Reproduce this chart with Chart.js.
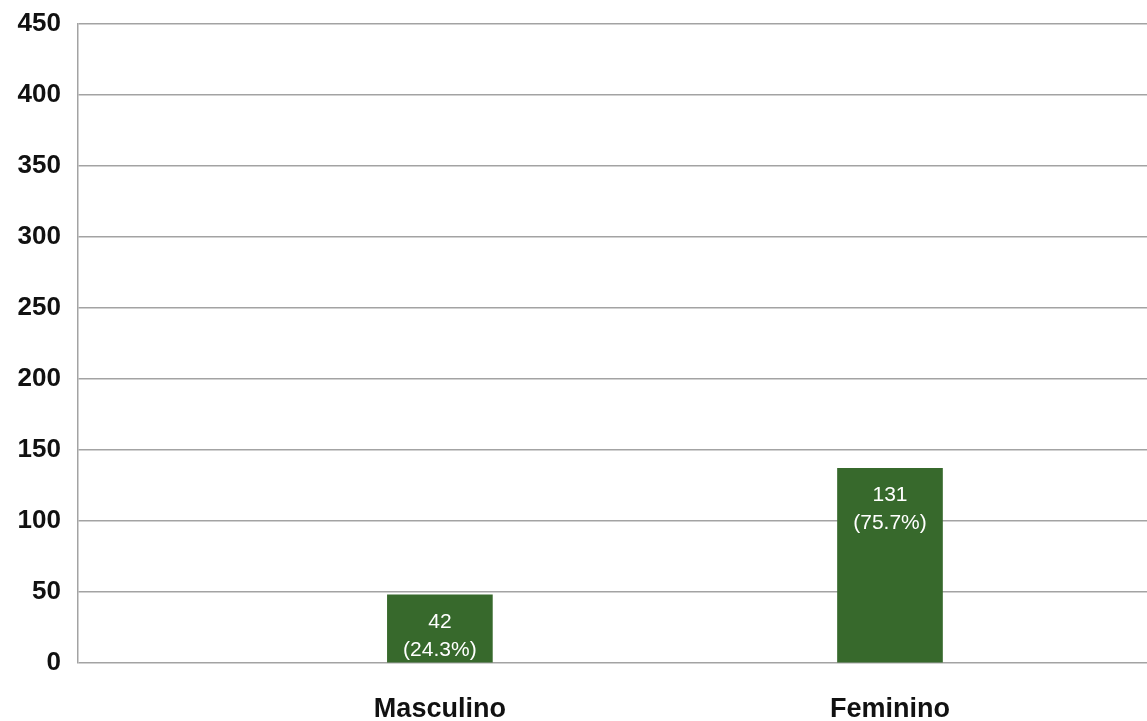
<!DOCTYPE html>
<html>
<head>
<meta charset="utf-8">
<script src="https://cdn.jsdelivr.net/npm/chart.js@4"></script>
<style>
  html, body { margin: 0; padding: 0; background: #fff; }
  #wrap { width: 1147px; height: 721px; }
</style>
</head>
<body>
<div id="wrap"><canvas id="chart_sexo"></canvas></div>
<script>
const categories = ['Masculino', 'Feminino'];
const barHeights = [48, 137];      // bar tops as drawn in the picture
const counts = [42, 131];
const percents = ['24.3%', '75.7%'];
const yTicks = [0, 50, 100, 150, 200, 250, 300, 350, 400, 450];

const labelPlugin = {
  id: 'barLabels',
  afterDatasetsDraw(chart) {
    const ctx = chart.ctx;
    const meta = chart.getDatasetMeta(0);
    ctx.save();
    ctx.fillStyle = '#ffffff';
    ctx.font = '21px "Liberation Sans", Arial, sans-serif';
    ctx.textAlign = 'center';
    ctx.textBaseline = 'middle';
    meta.data.forEach(function(bar, i) {
      ctx.fillText(String(counts[i]), bar.x, bar.y + 27);
      ctx.fillText('(' + percents[i] + ')', bar.x, bar.y + 55);
    });
    ctx.restore();
  }
};

const myChart = new Chart(document.getElementById('chart_sexo'), {
  type: 'bar',
  data: {
    datasets: [{
      data: categories.map((c, i) => ({x: i, y: barHeights[i]})),
      backgroundColor: '#37692c',
      barThickness: 105,
    }]
  },
  plugins: [labelPlugin],
  options: {
    responsive: true,
    maintainAspectRatio: false,
    animation: false,
    layout: { padding: 0 },
    plugins: {
      legend: { display: false },
      tooltip: { enabled: false },
    },
    scales: {
      x: {
        type: 'linear',
        offset: false,
        min: -0.804,
        max: 1.571,
        afterBuildTicks: function(scale) {
          scale.ticks = categories.map((c, i) => ({value: i}));
        },
        afterFit: function(scale) { scale.height = 58; },
        grid: { display: false, offset: false },
        border: { display: false },
        ticks: {
          padding: 22,
          color: '#111',
          font: { family: '"Liberation Sans", Arial, sans-serif', size: 27, weight: 'bold' },
          callback: function(v) { return categories[v]; },
        },
      },
      y: {
        min: 0,
        max: 450,
        afterBuildTicks: function(scale) {
          scale.ticks = yTicks.map(v => ({value: v}));
        },
        afterFit: function(scale) { scale.width = 78; },
        grid: { color: '#a3a3a3', lineWidth: 1.5, drawTicks: false },
        border: { display: true, color: '#a3a3a3', width: 1.5 },
        ticks: {
          padding: 17,
          color: '#111',
          font: { family: '"Liberation Sans", Arial, sans-serif', size: 26, weight: 'bold', lineHeight: 0.5 },
        },
      },
    }
  }
});
</script>
</body>
</html>
